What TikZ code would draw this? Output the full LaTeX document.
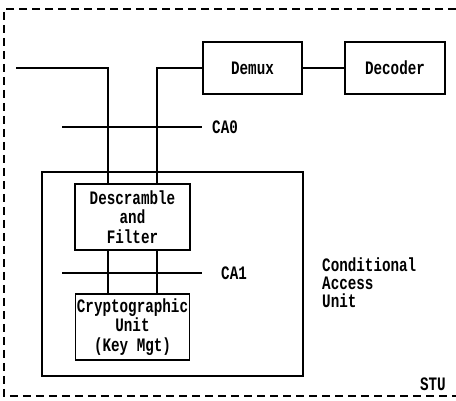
\documentclass[tikz,border=0pt]{standalone}
\usepackage{fontspec}
\newfontfamily\boxfont{Liberation Mono}[FakeStretch=0.75]
\usetikzlibrary{positioning}

\begin{document}
\begin{tikzpicture}[x=1pt, y=-1pt,
    box/.style={rectangle, draw=black, line width=1.3pt, align=center,
      inner sep=0pt, font=\boxfont\bfseries\fontsize{19}{19.5}\selectfont},
    wire/.style={line width=1.3pt, black},
    lab/.style={inner sep=0pt, align=left, font=\boxfont\bfseries\fontsize{19}{18}\selectfont},
    frame/.style={line width=1.2pt, dash pattern=on 8pt off 5pt}
  ]
    \useasboundingbox (0,0) rectangle (456,401);
    \draw[frame] (456,9) -- (4,9) -- (4,396) -- (456,396);

    \node[box, minimum width=99pt, minimum height=52pt] (demux) at (252.5,68) {Demux};
    \node[box, minimum width=100pt, minimum height=52pt] (dec) at (395,68) {Decoder};
    \node[box, minimum width=261pt, minimum height=204pt] (cau) at (172.5,274) {};
    \node[box, minimum width=115pt, minimum height=66pt] (desc) at (132.5,217) {Descramble\\and\\Filter};
    \node[box, minimum width=114pt, minimum height=66pt] (crypt) at (132.5,327) {Cryptographic\\Unit\\(Key Mgt)};

    \node[lab, anchor=west] (ca0) at (212,127) {CA0};
    \node[lab, anchor=west] (ca1) at (221,273) {CA1};
    \node[lab, anchor=west] (calab) at (322,283) {Conditional\\Access\\Unit};
    \node[lab, anchor=east] (stu) at (446,384) {STU};

    \coordinate (in) at (16,68);
    \coordinate (ca0w) at (62,127);
    \coordinate (ca1w) at (62,273);

    \draw[wire] (in) -| ([xshift=-24.5pt]desc.north);
    \draw[wire] (demux.west) -| ([xshift=24.5pt]desc.north);
    \draw[wire] (demux) -- (dec);
    \draw[wire] ([xshift=-24.5pt]desc.south) -- ([xshift=-24.5pt]crypt.north);
    \draw[wire] ([xshift=24.5pt]desc.south) -- ([xshift=24.5pt]crypt.north);
    \draw[wire] (ca0w) -- ([xshift=-10pt]ca0.west);
    \draw[wire] (ca1w) -- ([xshift=-19pt]ca1.west);
\end{tikzpicture}
\end{document}
